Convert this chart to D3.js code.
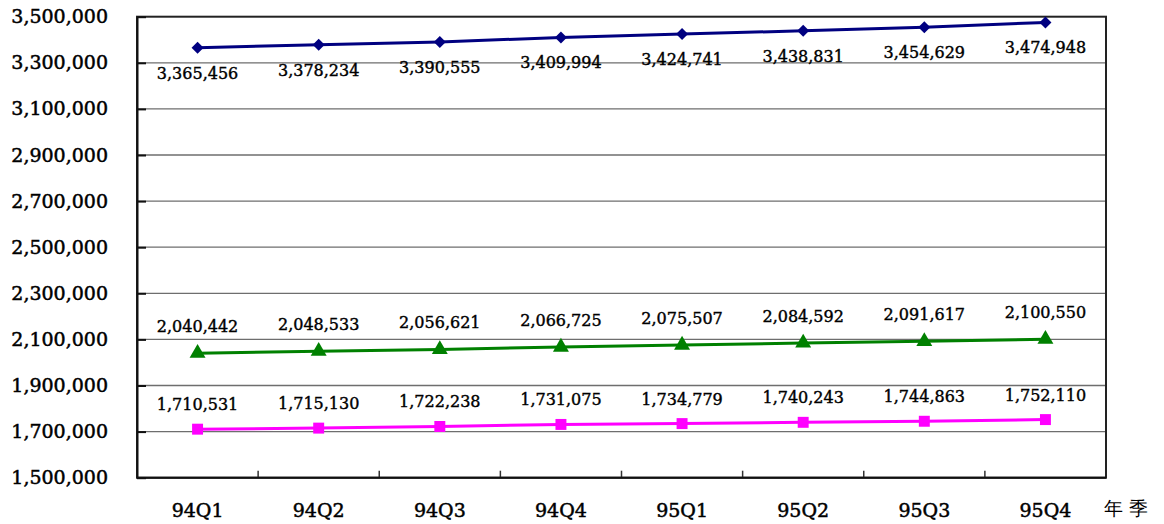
<!DOCTYPE html>
<html><head><meta charset="utf-8">
<script src="https://cdn.jsdelivr.net/npm/d3@7"></script>
<style>
body{margin:0;background:#fff;}
text{font-family:"DejaVu Serif","Liberation Serif",serif;}
</style></head>
<body><svg id="c" width="1164" height="524"></svg>
<script>
const categories = ["94Q1","94Q2","94Q3","94Q4","95Q1","95Q2","95Q3","95Q4"];
const seriesTotal = [3365456,3378234,3390555,3409994,3424741,3438831,3454629,3474948];
const seriesGreen = [2040442,2048533,2056621,2066725,2075507,2084592,2091617,2100550];
const seriesMagenta = [1710531,1715130,1722238,1731075,1734779,1740243,1744863,1752110];
const yTicks = [1500000,1700000,1900000,2100000,2300000,2500000,2700000,2900000,3100000,3300000,3500000];
const xAxisTitle = "年季";

const svg = d3.select("#c");
const L = 137, R = 1106, T = 16.7, B = 477.7;
const x = d3.scaleBand().domain(categories).range([L, R]);
const y = d3.scaleLinear().domain([1500000, 3500000]).range([B, T]);
const fmt = d3.format(",");

// gridlines
svg.append("g").selectAll("line").data(yTicks.slice(1, -1)).join("line")
  .attr("x1", L).attr("x2", R).attr("y1", d => y(d)).attr("y2", d => y(d))
  .attr("stroke", "#6e6e6e").attr("stroke-width", 1.3);

// plot border
svg.append("rect").attr("x", L).attr("y", T).attr("width", R - L).attr("height", B - T)
  .attr("fill", "none").attr("stroke", "#222").attr("stroke-width", 2);

// y axis
const yAxis = d3.axisLeft(y).tickValues(yTicks).tickFormat(fmt).tickSizeInner(-9).tickSizeOuter(0).tickPadding(29);
const gy = svg.append("g").attr("transform", `translate(${L},0)`).call(yAxis);
gy.select(".domain").attr("stroke", "#111").attr("stroke-width", 2);
gy.selectAll(".tick line").attr("stroke", "#111").attr("stroke-width", 2);
gy.selectAll("text").attr("font-size", 19).attr("fill", "#000").attr("font-family", "DejaVu Serif")
  .attr("stroke", "#000").attr("stroke-width", 0.5);

// x axis: ticks between categories
const gx = svg.append("g");
const bounds = categories.slice(1).map(c => x(c));
gx.selectAll("line").data(bounds).join("line")
  .attr("x1", d => d).attr("x2", d => d).attr("y1", B).attr("y2", B - 7)
  .attr("stroke", "#333").attr("stroke-width", 1.5);
gx.append("line").attr("x1", L).attr("x2", R).attr("y1", B).attr("y2", B).attr("stroke", "#111").attr("stroke-width", 2);
gx.selectAll("text.cat").data(categories).join("text").attr("class", "cat")
  .attr("x", d => x(d) + x.bandwidth() / 2).attr("y", 517).attr("text-anchor", "middle")
  .attr("font-size", 19).attr("fill", "#000").attr("stroke", "#000").attr("stroke-width", 0.5).text(d => d);
svg.append("text").attr("x", 1129).attr("y", 515).attr("text-anchor", "middle")
  .attr("font-family", "Noto Sans CJK TC").attr("font-size", 19).attr("letter-spacing", 6).text(xAxisTitle);

const cx = d => x(d) + x.bandwidth() / 2;
const line = d3.line().x((d, i) => cx(categories[i])).y(d => y(d));

function drawSeries(vals, color, shape, size, rot, labelDy) {
  const g = svg.append("g");
  g.append("path").datum(vals).attr("d", line).attr("fill", "none").attr("stroke", color).attr("stroke-width", 3);
  g.selectAll("path.m").data(vals).join("path").attr("class", "m")
    .attr("transform", (d, i) => `translate(${cx(categories[i])},${y(d)}) rotate(${rot})`)
    .attr("d", d3.symbol().type(shape).size(size)).attr("fill", color);
  g.selectAll("text").data(vals).join("text")
    .attr("x", (d, i) => cx(categories[i])).attr("y", d => y(d) + labelDy)
    .attr("text-anchor", "middle").attr("font-size", 16).attr("fill", "#000")
    .attr("stroke", "#000").attr("stroke-width", 0.4).text(fmt);
}
drawSeries(seriesTotal, "#000080", d3.symbolSquare, 72, 45, 31);
drawSeries(seriesGreen, "#008000", d3.symbolTriangle, 110, 0, -21);
drawSeries(seriesMagenta, "#FF00FF", d3.symbolSquare, 120, 0, -19);
</script></body></html>
